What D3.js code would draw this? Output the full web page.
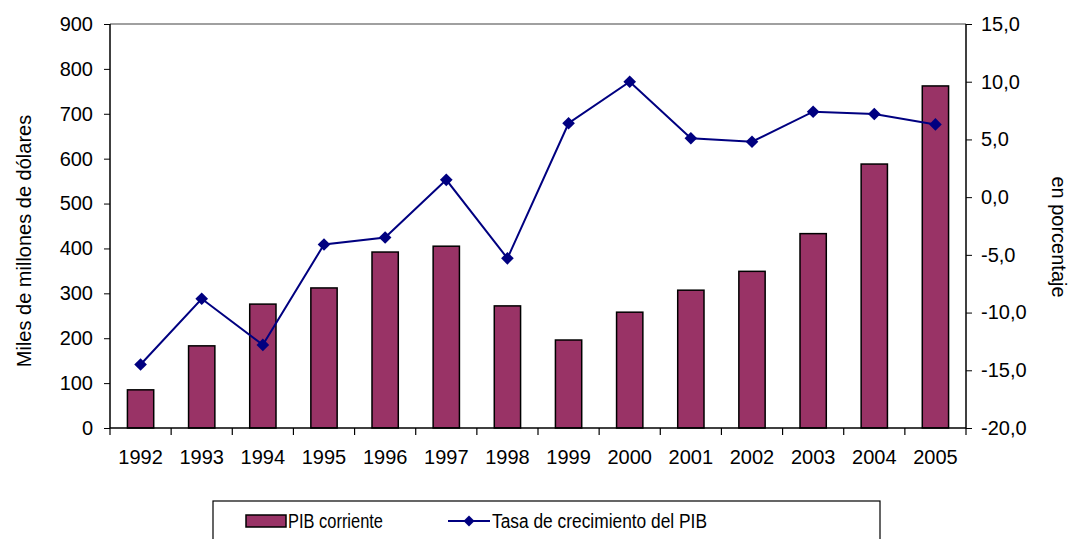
<!DOCTYPE html>
<html>
<head>
<meta charset="utf-8">
<script src="https://cdn.jsdelivr.net/npm/d3@7"></script>
<style>
  body { margin: 0; background: #fff; }
  text { font-family: "Liberation Sans", Arial, sans-serif; fill: #000; }
</style>
</head>
<body>
<div id="app"></div>
<script>
// PIB data
const years = ["1992", "1993", "1994", "1995", "1996", "1997", "1998", "1999", "2000", "2001", "2002", "2003", "2004", "2005"]
const pibCorriente = [85, 183, 276, 312, 392, 405, 272, 196, 258, 307, 349, 433, 588, 762]
const tasaCrecimiento = [-14.5, -8.8, -12.8, -4.1, -3.5, 1.5, -5.3, 6.4, 10.0, 5.1, 4.8, 7.4, 7.2, 6.3]
const leftTicks = [0, 100, 200, 300, 400, 500, 600, 700, 800, 900]
const rightTicks = [-20, -15, -10, -5, 0, 5, 10, 15]

const W = 1071, H = 539
const m = { left: 110, right: 966, top: 24, bottom: 428 }

const svg = d3.select("#app")
  .append("svg")
    .attr("width", W)
    .attr("height", H)

const x = d3.scaleBand()
    .domain(years)
    .range([m.left, m.right])
    .paddingInner(0.57)
    .paddingOuter(0.285)
const xb = d3.scaleBand().domain(years).range([m.left, m.right])
const yL = d3.scaleLinear().domain([0, 900]).range([m.bottom, m.top])
const yR = d3.scaleLinear().domain([-20, 15]).range([m.bottom, m.top])

// top border of plot area
svg.append("line")
    .attr("x1", m.left).attr("x2", m.right)
    .attr("y1", m.top).attr("y2", m.top)
    .attr("stroke", "#808080").attr("stroke-width", 1.5)

// bars
svg.append("g")
  .selectAll("rect")
  .data(pibCorriente)
  .join("rect")
    .attr("x", (d, i) => x(years[i]))
    .attr("y", d => yL(d))
    .attr("width", x.bandwidth())
    .attr("height", d => yL(0) - yL(d))
    .attr("fill", "#993366")
    .attr("stroke", "#000")
    .attr("stroke-width", 1.5)

// left axis
const axL = svg.append("g")
    .attr("transform", `translate(${m.left},0)`)
    .call(d3.axisLeft(yL).tickValues(leftTicks).tickSize(6).tickPadding(11).tickFormat(d3.format("d")))
axL.select(".domain").attr("stroke-width", 1.5).attr("d", `M0,${m.bottom}V${m.top}`)
axL.selectAll("text").style("font-size", "20px").style("font-family", "Liberation Sans, Arial")

// right axis
const axR = svg.append("g")
    .attr("transform", `translate(${m.right},0)`)
    .call(d3.axisRight(yR).tickValues(rightTicks).tickSize(6).tickPadding(9).tickFormat(d => d3.format(".1f")(d).replace(".", ",").replace("−", "-")))
axR.select(".domain").attr("stroke-width", 1.5).attr("d", `M0,${m.bottom}V${m.top}`)
axR.selectAll("text").style("font-size", "20px").style("font-family", "Liberation Sans, Arial")

// bottom axis: ticks on category boundaries
const axB = svg.append("g")
    .attr("transform", `translate(0,${m.bottom})`)
axB.append("line")
    .attr("x1", m.left).attr("x2", m.right)
    .attr("stroke", "#000").attr("stroke-width", 1.5)
axB.selectAll("line.tk")
  .data(years.concat(["end"]))
  .join("line")
    .attr("class", "tk")
    .attr("x1", (d, i) => i < years.length ? xb(d) : m.right)
    .attr("x2", (d, i) => i < years.length ? xb(d) : m.right)
    .attr("y1", 0).attr("y2", 7)
    .attr("stroke", "#000").attr("stroke-width", 1.2)
axB.selectAll("text")
  .data(years)
  .join("text")
    .attr("x", d => xb(d) + xb.bandwidth() / 2)
    .attr("y", 36)
    .attr("text-anchor", "middle")
    .style("font-size", "20px")
    .text(d => d)

// growth line
const line = d3.line()
    .x((d, i) => xb(years[i]) + xb.bandwidth() / 2)
    .y(d => yR(d))
svg.append("path")
    .datum(tasaCrecimiento)
    .attr("d", line)
    .attr("fill", "none")
    .attr("stroke", "#000080")
    .attr("stroke-width", 2)

svg.append("g")
  .selectAll("path")
  .data(tasaCrecimiento)
  .join("path")
    .attr("transform", (d, i) => `translate(${xb(years[i]) + xb.bandwidth() / 2},${yR(d)}) rotate(45)`)
    .attr("d", d3.symbol().type(d3.symbolSquare).size(80))
    .attr("fill", "#000080")

// axis titles
svg.append("text")
    .attr("transform", `translate(31,241) rotate(-90)`)
    .attr("text-anchor", "middle")
    .style("font-size", "20px")
    .text("Miles de millones de dólares")
svg.append("text")
    .attr("transform", `translate(1052,237) rotate(90)`)
    .attr("text-anchor", "middle")
    .style("font-size", "20px")
    .text("en porcentaje")

// legend
const lg = svg.append("g")
lg.append("rect")
    .attr("x", 213).attr("y", 501)
    .attr("width", 667).attr("height", 50)
    .attr("fill", "#fff")
    .attr("stroke", "#000").attr("stroke-width", 1.2)
lg.append("rect")
    .attr("x", 246).attr("y", 515)
    .attr("width", 40).attr("height", 12)
    .attr("fill", "#993366")
    .attr("stroke", "#000").attr("stroke-width", 1.5)
lg.append("text")
    .attr("x", 288).attr("y", 528)
    .attr("textLength", 95)
    .attr("lengthAdjust", "spacingAndGlyphs")
    .style("font-size", "20px")
    .text("PIB corriente")
lg.append("line")
    .attr("x1", 448).attr("x2", 490)
    .attr("y1", 521).attr("y2", 521)
    .attr("stroke", "#000080").attr("stroke-width", 2)
lg.append("path")
    .attr("transform", "translate(469,521) rotate(45)")
    .attr("d", d3.symbol().type(d3.symbolSquare).size(60))
    .attr("fill", "#000080")
lg.append("text")
    .attr("x", 492).attr("y", 528)
    .attr("textLength", 215)
    .attr("lengthAdjust", "spacingAndGlyphs")
    .style("font-size", "20px")
    .text("Tasa de crecimiento del PIB")
</script>
</body>
</html>
